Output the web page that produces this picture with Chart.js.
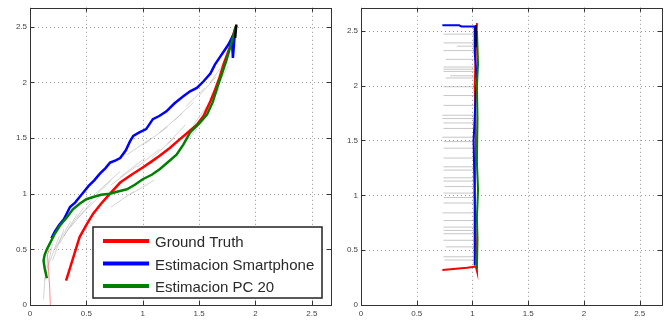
<!DOCTYPE html>
<html><head><meta charset="utf-8">
<script src="https://cdn.jsdelivr.net/npm/chart.js@4"></script>
<style>html,body{margin:0;padding:0;background:#fff;overflow:hidden;width:672px;height:322px}
#l{position:absolute;left:0;top:0}#r{position:absolute;left:336px;top:0}</style>
</head><body>
<canvas id="l" width="336" height="322"></canvas>
<canvas id="r" width="336" height="322"></canvas>
<script>
// ---- tick values / labels ----
const tickVals = [0, 0.5, 1, 1.5, 2, 2.5];
const tickLabels = ['0', '0.5', '1', '1.5', '2', '2.5'];
const seriesNames = ['Ground Truth', 'Estimacion Smartphone', 'Estimacion PC 20'];

// ---- left panel ----
const gtX = [0.32,0.36,0.40,0.44,0.50,0.56,0.63,0.71,0.80,0.90,1.00,1.08,1.15,1.24,1.33,1.40,1.48,1.54,1.60,1.64,1.68,1.72,1.77,1.80,1.83];
const gtY = [0.22,0.35,0.48,0.61,0.72,0.82,0.91,1.00,1.10,1.17,1.235,1.29,1.34,1.41,1.49,1.55,1.62,1.70,1.83,1.93,2.04,2.17,2.31,2.42,2.51];
const smX = [0.19,0.22,0.26,0.30,0.325,0.355,0.40,0.44,0.48,0.52,0.57,0.62,0.67,0.71,0.76,0.80,0.85,0.887,0.916,0.97,1.03,1.09,1.15,1.21,1.28,1.36,1.42,1.48,1.54,1.60,1.64,1.68,1.72,1.76,1.79,1.80,1.81,1.82];
const smY = [0.60,0.66,0.72,0.77,0.82,0.88,0.92,0.97,1.02,1.07,1.12,1.18,1.23,1.28,1.30,1.32,1.39,1.47,1.52,1.55,1.58,1.67,1.70,1.74,1.81,1.875,1.92,1.95,2.01,2.08,2.16,2.22,2.28,2.34,2.40,2.22,2.35,2.49];
const pcX = [0.15,0.13,0.12,0.13,0.15,0.18,0.22,0.27,0.33,0.38,0.44,0.50,0.56,0.63,0.71,0.78,0.86,0.93,1.00,1.08,1.15,1.22,1.30,1.36,1.42,1.50,1.57,1.62,1.66,1.70,1.74,1.78,1.81,1.83];
const pcY = [0.24,0.33,0.40,0.45,0.50,0.56,0.64,0.72,0.79,0.86,0.91,0.95,0.97,0.99,1.00,1.02,1.04,1.08,1.13,1.17,1.22,1.28,1.35,1.44,1.55,1.63,1.71,1.82,1.95,2.07,2.19,2.33,2.44,2.51];
const endX = [1.82,1.83];
const endY = [2.40,2.52];
const pinkX = [0.18,0.175,0.165,0.155,0.17];
const pinkY = [0.0,0.15,0.30,0.45,0.50];
// faint connection segments [x1,y1,x2,y2]
const linksL = [
 [0.12,0.05,0.14,0.35],[0.13,0.22,0.20,0.55],[0.16,0.35,0.26,0.62],[0.20,0.40,0.30,0.68],
 [0.22,0.50,0.36,0.75],[0.26,0.55,0.42,0.82],[0.30,0.62,0.48,0.88],[0.36,0.70,0.55,0.93],
 [0.42,0.78,0.62,0.98],[0.50,0.90,0.72,1.12],[0.58,1.00,0.80,1.20],[0.66,1.22,0.85,1.36],
 [0.72,1.08,0.95,1.25],[0.80,1.15,1.02,1.32],[0.86,1.35,1.08,1.50],[0.95,1.24,1.15,1.40],
 [1.02,1.45,1.22,1.60],[1.08,1.32,1.28,1.50],[1.15,1.55,1.35,1.72],[1.22,1.45,1.38,1.62],
 [1.28,1.66,1.45,1.82],[1.32,1.40,1.48,1.58],[1.38,1.78,1.55,1.95],[1.45,1.62,1.58,1.80],
 [1.50,1.88,1.65,2.05],[1.55,1.70,1.68,1.95],[1.60,2.00,1.74,2.20],[1.65,1.95,1.76,2.15],
 [1.70,2.15,1.80,2.35],[0.72,0.88,0.92,1.02],[0.90,1.00,1.10,1.12]
];

// ---- right panel ----
const gtRX = [0.73,0.85,0.95,1.03,1.04,1.03,1.02,1.03,1.02,1.03,1.04];
const gtRY = [0.32,0.33,0.34,0.35,0.31,0.60,1.00,1.50,2.00,2.30,2.57];
const smRX = [0.73,0.88,0.90,1.02,1.02,1.04,1.03,1.02,1.01,1.02,1.02,1.02];
const smRY = [2.55,2.55,2.54,2.54,2.30,2.05,1.95,1.70,1.50,1.00,0.60,0.36];
const pcRX = [1.04,1.045,1.04,1.05,1.04,1.045,1.04,1.05,1.04];
const pcRY = [0.33,0.60,0.80,1.05,1.30,1.70,2.00,2.20,2.50];
const endRX = [1.03,1.03];
const endRY = [2.35,2.55];
const rungY = [2.47,2.39,2.36,2.32,2.24,2.17,2.15,2.13,2.09,2.07,1.99,1.91,1.82,1.73,1.70,1.66,1.61,1.53,1.49,1.43,1.34,1.26,1.23,1.16,1.13,1.08,1.02,0.98,0.93,0.84,0.77,0.71,0.68,0.65,0.59,0.53,0.44,0.41];
const rungX0 = [0.74,0.74,0.86,0.74,0.76,0.74,0.74,0.74,0.80,0.76,0.74,0.74,0.74,0.73,0.73,0.74,0.74,0.73,0.74,0.74,0.74,0.74,0.74,0.74,0.74,0.75,0.74,0.74,0.74,0.73,0.74,0.74,0.74,0.74,0.74,0.76,0.74,0.75];
const rungX1 = 1.02;

const pts = (xs, ys) => xs.map((x, i) => ({x, y: ys[i]}));

Chart.defaults.font.family = "'Liberation Sans', Arial, sans-serif";
Chart.defaults.animation = false;

const framePlugin = {
  id: 'matlabFrame',
  beforeDatasetsDraw(chart) {
    const {ctx, chartArea: a, scales: {x, y}} = chart;
    ctx.save();
    ctx.strokeStyle = '#9a9a9a';
    ctx.lineWidth = 1;
    ctx.setLineDash([1, 3]);
    tickVals.forEach(v => {
      const px = Math.round(x.getPixelForValue(v)) + 0.5;
      if (px > a.left + 1 && px < a.right - 1) { ctx.beginPath(); ctx.moveTo(px, a.top); ctx.lineTo(px, a.bottom); ctx.stroke(); }
      const py = Math.round(y.getPixelForValue(v)) + 0.5;
      if (py > a.top + 1 && py < a.bottom - 1) { ctx.beginPath(); ctx.moveTo(a.left, py); ctx.lineTo(a.right, py); ctx.stroke(); }
    });
    ctx.restore();
  },
  afterDatasetsDraw(chart) {
    const {ctx, chartArea: a, scales: {x, y}} = chart;
    ctx.save();
    ctx.strokeStyle = '#333';
    ctx.lineWidth = 1;
    ctx.setLineDash([]);
    const L = 4;
    tickVals.forEach(v => {
      const px = Math.round(x.getPixelForValue(v)) + 0.5;
      ctx.beginPath();
      ctx.moveTo(px, a.bottom); ctx.lineTo(px, a.bottom - L);
      ctx.moveTo(px, a.top); ctx.lineTo(px, a.top + L);
      ctx.stroke();
      const py = Math.round(y.getPixelForValue(v)) + 0.5;
      ctx.beginPath();
      ctx.moveTo(a.left, py); ctx.lineTo(a.left + L, py);
      ctx.moveTo(a.right, py); ctx.lineTo(a.right - L, py);
      ctx.stroke();
    });
    ctx.strokeRect(Math.round(a.left) + 0.5, Math.round(a.top) + 0.5, Math.round(a.right - a.left), Math.round(a.bottom - a.top));
    ctx.restore();
  }
};

const legendPlugin = {
  id: 'boxLegend',
  afterDatasetsDraw(chart, args, opts) {
    if (!opts.show) return;
    const {ctx, chartArea: a} = chart;
    const items = chart.data.datasets.filter(d => d.legend);
    const right = a.right - 9, bottom = a.bottom - 7;
    const left = right - 229, top = bottom - 71;
    ctx.save();
    ctx.fillStyle = '#fff';
    ctx.fillRect(left, top, right - left, bottom - top);
    ctx.strokeStyle = '#222';
    ctx.lineWidth = 1.5;
    ctx.strokeRect(left, top, right - left, bottom - top);
    ctx.font = "15px 'Liberation Sans', Arial, sans-serif";
    ctx.textBaseline = 'middle';
    items.forEach((d, i) => {
      const cy = top + 14 + i * 22.5;
      ctx.strokeStyle = d.borderColor;
      ctx.lineWidth = 4;
      ctx.beginPath(); ctx.moveTo(left + 10, cy); ctx.lineTo(left + 56, cy); ctx.stroke();
      ctx.fillStyle = '#2a2a2a';
      ctx.fillText(d.label, left + 62, cy + 2);
    });
    ctx.restore();
  }
};

function lineDs(label, data, color, width, order, legend) {
  return {label, data, borderColor: color, backgroundColor: color, borderWidth: width,
    showLine: true, pointRadius: 0, pointHoverRadius: 0, tension: 0, fill: false, order, legend: !!legend};
}

function makeChart(id, datasets, xMax, yMax, yWidth, padRight, showLegend) {
  return new Chart(document.getElementById(id), {
    type: 'scatter',
    data: {datasets},
    plugins: [framePlugin, legendPlugin],
    options: {
      responsive: false,
      animation: false,
      layout: {padding: {left: 0, right: padRight, top: 5, bottom: 0}},
      plugins: {legend: {display: false}, tooltip: {enabled: false}, boxLegend: {show: showLegend}},
      scales: {
        x: {type: 'linear', min: 0, max: xMax,
          afterBuildTicks: s => { s.ticks = tickVals.map(v => ({value: v})); },
          afterFit: s => { s.height = 17; },
          grid: {display: false, drawTicks: false, tickLength: 0}, border: {display: false},
          ticks: {autoSkip: false, maxRotation: 0, padding: 4, color: '#444', font: {size: 8},
            callback: (v, i) => tickLabels[i]}},
        y: {type: 'linear', min: 0, max: yMax,
          afterBuildTicks: s => { s.ticks = tickVals.map(v => ({value: v})); },
          afterFit: s => { s.width = yWidth; },
          grid: {display: false, drawTicks: false, tickLength: 0}, border: {display: false},
          ticks: {autoSkip: false, padding: 3, color: '#444', font: {size: 8},
            callback: (v, i) => tickLabels[i]}}
      }
    }
  });
}

// left datasets
const leftDs = [];
linksL.forEach(s => leftDs.push(lineDs('', [{x: s[0], y: s[1]}, {x: s[2], y: s[3]}], 'rgba(165,165,165,0.6)', 0.8, 10)));
leftDs.push(lineDs('', pts(pinkX, pinkY), 'rgba(255,90,90,0.7)', 1, 9));
leftDs.push(lineDs(seriesNames[0], pts(gtX, gtY), '#ff0000', 2.5, 3, true));
leftDs.push(lineDs(seriesNames[1], pts(smX, smY), '#0000ff', 2.5, 2, true));
leftDs.push(lineDs(seriesNames[2], pts(pcX, pcY), '#008000', 2.5, 1, true));
leftDs.push(lineDs('', pts(endX, endY), '#000000', 2.5, 0));
makeChart('l', leftDs, 2.67, 2.67, 30, 5, true);

// right datasets
const rightDs = [];
rungY.forEach((yv, i) => rightDs.push(lineDs('', [{x: rungX0[i], y: yv}, {x: rungX1, y: yv}], 'rgba(175,175,175,0.7)', 1, 10)));
rightDs.push(lineDs(seriesNames[0], pts(gtRX, gtRY), '#ff0000', 2, 3));
rightDs.push(lineDs(seriesNames[1], pts(smRX, smRY), '#0000ff', 2, 2));
rightDs.push(lineDs(seriesNames[2], pts(pcRX, pcRY), '#008000', 2, 1));
rightDs.push(lineDs('', pts(endRX, endRY), '#000000', 2, 0));
makeChart('r', rightDs, 2.70, 2.71, 25, 10, false);
</script>
</body></html>
